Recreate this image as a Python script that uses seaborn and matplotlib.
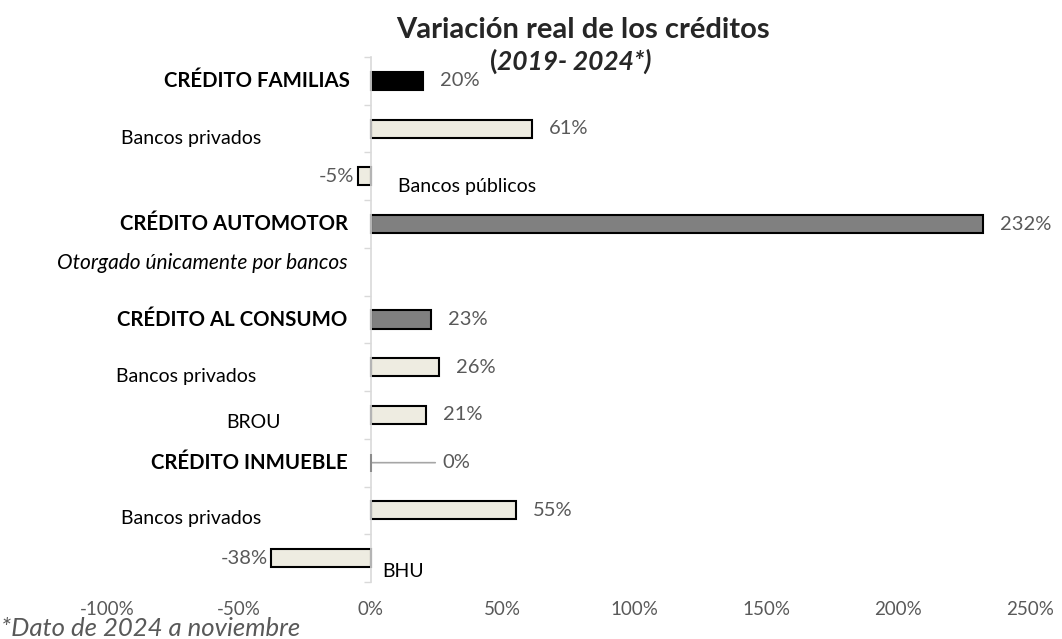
import numpy as np
import pandas as pd
import matplotlib
matplotlib.use("Agg")
import matplotlib.pyplot as plt
import seaborn as sns

# datos
filas = ["CRÉDITO FAMILIAS", "Bancos privados", "Bancos públicos", "CRÉDITO AUTOMOTOR",
         "Otorgado únicamente por bancos", "CRÉDITO AL CONSUMO", "Bancos privados",
         "BROU", "CRÉDITO INMUEBLE", "Bancos privados", "BHU"]
variacion = [20, 61, -5, 232, np.nan, 23, 26, 21, 0, 55, -38]
tipo = ["familias", "sub", "sub", "total", "nota", "total", "sub", "sub", "inmueble", "sub", "sub"]
xticks = [-100, -50, 0, 50, 100, 150, 200, 250]

colores_tipo = {"familias": "#000000", "total": "#808080", "sub": "#EEECE1",
                "nota": "#FFFFFF", "inmueble": "#A6A6A6"}

df = pd.DataFrame({"id": [str(i) for i in range(len(filas))], "fila": filas,
                   "valor": variacion, "tipo": tipo})

sns.set_theme(style="white")
plt.rcParams["font.family"] = ["Lato", "DejaVu Sans"]

fig = plt.figure(figsize=(10.62, 6.39), dpi=100)
ax = fig.add_axes([107 / 1062, 1 - 582 / 639, (1030 - 107) / 1062, (582 - 57) / 639])

pal = {r.id: colores_tipo[r.tipo] for r in df.itertuples()}
sns.barplot(data=df, x="valor", y="id", hue="id", palette=pal, legend=False,
            orient="h", order=df["id"], width=0.38, edgecolor="black",
            linewidth=1.5, saturation=1, ax=ax)
# barra de inmueble (0%) con borde gris
for p in ax.patches:
    fila = int(round(p.get_y() + p.get_height() / 2))
    if tipo[fila] == "inmueble":
        p.set_edgecolor("#8C8C8C")
        p.set_zorder(5)

ax.set_xlim(-100, 250)
ax.set_ylim(10.5, -0.5)
ax.set_xticks(xticks)
ax.set_xticklabels([f"{t}%" for t in xticks], color="#595959", fontsize=13.5)
ax.tick_params(axis="x", length=0, pad=14)
ax.set_yticks(np.arange(-0.5, 11, 1))
ax.set_yticklabels([])
ax.tick_params(axis="y", which="major", length=5, width=1, color="#D9D9D9", direction="out", left=True)
for s in ["top", "right", "bottom"]:
    ax.spines[s].set_visible(False)
ax.spines["left"].set_position(("data", 0))
ax.spines["left"].set_color("#D9D9D9")
ax.spines["left"].set_linewidth(1.2)
ax.set_xlabel("")
ax.set_ylabel("")

# etiquetas de categoria (desplazamiento en pixeles desde el eje)
pos_etiq = [(-21, 0, "right"), (-109, -10, "right"), (27, -10, "left"), (-23, 0, "right"),
            (-23, 9, "right"), (-23, 0, "right"), (-114, -9, "right"), (-90, -8, "right"),
            (-23, 0, "right"), (-109, -8, "right"), (12, -13, "left")]
for i, (nombre, t) in enumerate(zip(filas, tipo)):
    dx, dy, ha = pos_etiq[i]
    peso = "bold" if nombre.startswith("CRÉDITO") else "normal"
    estilo = "italic" if t == "nota" else "normal"
    tam = 14.7 if peso == "bold" else (15 if t == "nota" else 14)
    ax.annotate(nombre, xy=(0, i), xytext=(dx, dy), textcoords="offset pixels",
                ha=ha, va="center", fontsize=tam, fontweight=peso, fontstyle=estilo,
                color="black")

# etiquetas de valor
for i, (v, t) in enumerate(zip(variacion, tipo)):
    if np.isnan(v):
        continue
    if t == "inmueble":
        ax.annotate(f"{v:.0f}%", xy=(0, i), xytext=(72, 0), textcoords="offset pixels",
                    ha="left", va="center", fontsize=14.5, color="#595959",
                    arrowprops=dict(arrowstyle="-", color="#A6A6A6", lw=1.2,
                                    shrinkA=3, shrinkB=1))
    elif v >= 0:
        ax.annotate(f"{v:.0f}%", xy=(v, i), xytext=(17, 0), textcoords="offset pixels",
                    ha="left", va="center", fontsize=14.5, color="#595959")
    else:
        ax.annotate(f"{v:.0f}%", xy=(v, i), xytext=(-3, 0), textcoords="offset pixels",
                    ha="right", va="center", fontsize=14.5, color="#595959")

fig.text(583 / 1062, 1 - 30 / 639, "Variación real de los créditos", ha="center", va="center",
         fontsize=21, fontweight="bold")
fig.text(497 / 1062, 1 - 61 / 639, "(", ha="right", va="center", fontsize=19, fontweight="bold")
fig.text(497 / 1062, 1 - 61 / 639, "2019- 2024*)", ha="left", va="center", fontsize=19,
         fontweight="bold", fontstyle="italic")
fig.text(1 / 1062, 1 - 628 / 639, "*Dato de 2024 a noviembre", ha="left", va="center",
         fontsize=18.5, fontstyle="italic", color="#595959")

fig.savefig("out.png", dpi=100)
